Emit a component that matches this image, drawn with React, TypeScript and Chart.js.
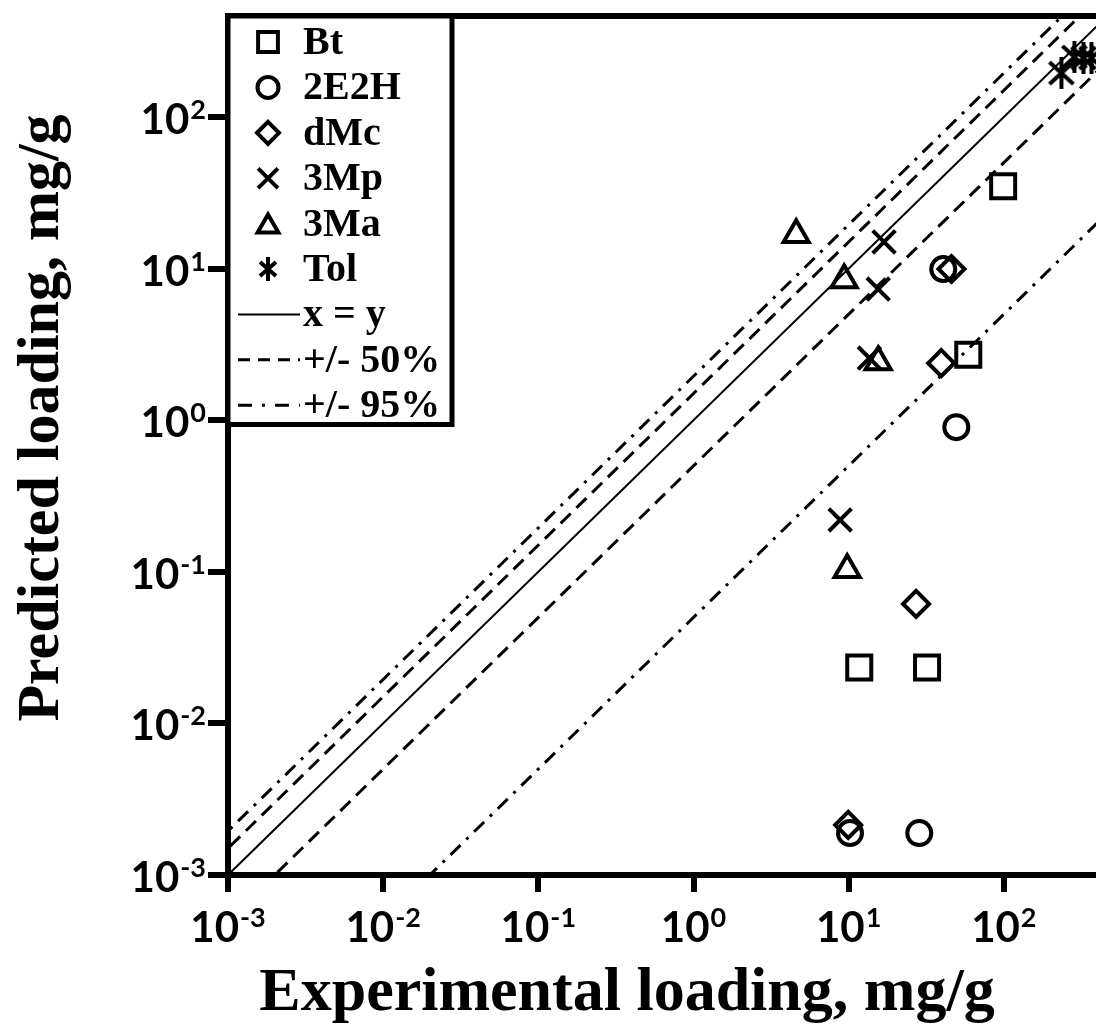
import React, { useEffect, useRef } from 'react';
import { Chart, registerables } from 'chart.js';

Chart.register(...registerables);

// ---------- data ----------
const SERIES = ['Bt', '2E2H', 'dMc', '3Mp', '3Ma', 'Tol'];
const BT_X = [99, 59, 11.7, 32];
const BT_Y = [35, 2.7, 0.0234, 0.0234];
const E2H_X = [40.7, 49.4, 10.2, 28.5];
const E2H_Y = [9.94, 0.9, 0.00189, 0.00189];
const DMC_X = [46, 39.5, 27.2, 9.93];
const DMC_Y = [9.94, 2.38, 0.0614, 0.00214];
const MP_X = [16.9, 15.5, 13.6, 8.81];
const MP_Y = [15.0, 7.33, 2.57, 0.22];
const MA_X = [4.59, 9.35, 15.5, 9.78];
const MA_Y = [16.7, 8.41, 2.42, 0.103];
const TOL_X = [235, 285, 326, 367];
const TOL_Y = [195, 249, 245, 245];

const LINE_LABELS = ['x = y', '+/- 50%', '+/- 95%'];
const LINE_X = [0.0001, 10000];
const LINE_XY = [0.0001, 10000];
const LINE_UP50 = [0.00015, 15000];
const LINE_LO50 = [0.00005, 5000];
const LINE_UP95 = [0.000195, 19500];
const LINE_LO95 = [0.000005, 500];

const X_TICK_EXP = [-3, -2, -1, 0, 1, 2, 3];
const Y_TICK_EXP = [-3, -2, -1, 0, 1, 2];
const X_TITLE = 'Experimental loading, mg/g';
const Y_TITLE = 'Predicted loading, mg/g';

const X_MIN = 0.001;
const X_MAX = 1000;
const Y_MIN = 0.001;
const Y_MAX = 464;

// ---------- helpers ----------
const pts = (xs: number[], ys: number[]) => xs.map((x, i) => ({ x, y: ys[i] }));

const DASH = [14, 8];
const DASHDOT = [14, 8, 3, 8];

function makeAsterisk(size: number, lw: number) {
  const c = document.createElement('canvas');
  c.width = size;
  c.height = size;
  const g = c.getContext('2d')!;
  g.strokeStyle = '#000';
  g.lineWidth = lw;
  const s = size;
  const m = lw / 2;
  g.beginPath();
  g.moveTo(s / 2, 0);
  g.lineTo(s / 2, s);
  g.moveTo(m + 2, m + 3);
  g.lineTo(s - m - 2, s - m - 3);
  g.moveTo(s - m - 2, m + 3);
  g.lineTo(m + 2, s - m - 3);
  g.stroke();
  return c;
}

function drawMarker(ctx: CanvasRenderingContext2D, kind: string, x: number, y: number, r: number, img?: HTMLCanvasElement) {
  ctx.beginPath();
  if (kind === 'rect') {
    const h = r * Math.SQRT1_2;
    ctx.rect(x - h, y - h, 2 * h, 2 * h);
  } else if (kind === 'circle') {
    ctx.arc(x, y, r, 0, Math.PI * 2);
  } else if (kind === 'rectRot') {
    ctx.moveTo(x, y - r);
    ctx.lineTo(x + r, y);
    ctx.lineTo(x, y + r);
    ctx.lineTo(x - r, y);
    ctx.closePath();
  } else if (kind === 'crossRot') {
    const d = r * Math.SQRT1_2;
    ctx.moveTo(x - d, y - d);
    ctx.lineTo(x + d, y + d);
    ctx.moveTo(x + d, y - d);
    ctx.lineTo(x - d, y + d);
  } else if (kind === 'triangle') {
    const a = Math.PI * 2 / 3;
    ctx.moveTo(x, y - r);
    ctx.lineTo(x + Math.sin(a) * r, y - Math.cos(a) * r);
    ctx.lineTo(x + Math.sin(2 * a) * r, y - Math.cos(2 * a) * r);
    ctx.closePath();
  } else if (kind === 'image' && img) {
    ctx.drawImage(img, x - img.width / 2, y - img.height / 2);
    return;
  }
  ctx.stroke();
}

function drawPow(ctx: CanvasRenderingContext2D, exp: number, x: number, baseline: number, align: 'center' | 'right') {
  const base = '10';
  const sup = String(exp);
  const baseFont = '700 42px Lato';
  const supFont = '700 27px Lato';
  ctx.font = baseFont;
  const wb = ctx.measureText(base).width;
  ctx.font = supFont;
  const ws = ctx.measureText(sup).width;
  const total = wb + 1 + ws;
  const start = align === 'center' ? x - total / 2 : x - total;
  ctx.textAlign = 'left';
  ctx.textBaseline = 'alphabetic';
  ctx.font = baseFont;
  ctx.fillText(base, start, baseline);
  ctx.font = supFont;
  ctx.fillText(sup, start + wb + 1, baseline - 15);
}

export default function App() {
  const ref = useRef<HTMLCanvasElement>(null);

  useEffect(() => {
    const canvas = ref.current;
    if (!canvas) return;
    const star = makeAsterisk(32, 4);
    const starSmall = makeAsterisk(24, 4);

    const legendItems = [
      { label: SERIES[0], kind: 'rect', r: 14 },
      { label: SERIES[1], kind: 'circle', r: 10.5 },
      { label: SERIES[2], kind: 'rectRot', r: 11 },
      { label: SERIES[3], kind: 'crossRot', r: 14 },
      { label: SERIES[4], kind: 'triangle', r: 12 },
      { label: SERIES[5], kind: 'image', r: 11 },
    ];
    const legendLines = [
      { label: LINE_LABELS[0], dash: [] as number[], w: 2 },
      { label: LINE_LABELS[1], dash: [12, 8], w: 3 },
      { label: LINE_LABELS[2], dash: [14, 10, 3, 10], w: 3 },
    ];

    const overlay = {
      id: 'overlay',
      afterDraw(chart: any) {
        const { ctx, chartArea: ca, scales } = chart;
        const xs = scales.x;
        const ys = scales.y;
        ctx.save();
        // top / right frame
        ctx.strokeStyle = '#000';
        ctx.lineWidth = 6;
        ctx.setLineDash([]);
        ctx.beginPath();
        ctx.moveTo(ca.left - 3, ca.top);
        ctx.lineTo(ca.right, ca.top);
        ctx.lineTo(ca.right, ca.bottom);
        ctx.stroke();

        // tick labels
        ctx.fillStyle = '#000';
        X_TICK_EXP.forEach((e) => {
          const px = xs.getPixelForValue(Math.pow(10, e));
          drawPow(ctx, e, px, ca.bottom + 67, 'center');
        });
        Y_TICK_EXP.forEach((e) => {
          const py = ys.getPixelForValue(Math.pow(10, e));
          drawPow(ctx, e, ca.left - 22, py + 17, 'right');
        });

        // axis titles
        ctx.textAlign = 'center';
        ctx.textBaseline = 'alphabetic';
        ctx.font = 'bold 62px "Liberation Serif"';
        ctx.fillText(X_TITLE, ca.left + 399, ca.bottom + 135);
        ctx.save();
        ctx.font = 'bold 60px "Liberation Serif"';
        ctx.translate(58, ca.top + 402);
        ctx.rotate(-Math.PI / 2);
        ctx.fillText(Y_TITLE, 0, 0);
        ctx.restore();

        // legend box
        const lx0 = ca.left;
        const ly0 = ca.top;
        const lx1 = 452;
        const ly1 = 424.5;
        ctx.fillStyle = '#fff';
        ctx.fillRect(lx0, ly0, lx1 - lx0, ly1 - ly0);
        ctx.strokeStyle = '#000';
        ctx.lineWidth = 5;
        ctx.strokeRect(lx0, ly0, lx1 - lx0, ly1 - ly0);

        const rowY = (i: number) => 42 + i * 45.4;
        ctx.fillStyle = '#000';
        ctx.font = 'bold 40px "Liberation Serif"';
        ctx.textAlign = 'left';
        ctx.textBaseline = 'alphabetic';
        legendItems.forEach((it, i) => {
          const y = rowY(i);
          ctx.lineWidth = 4;
          ctx.strokeStyle = '#000';
          drawMarker(ctx, it.kind, 268, it.kind === 'triangle' ? y + 3 : y, it.r, starSmall);
          ctx.fillText(it.label, 303, y + 12);
        });
        legendLines.forEach((it, j) => {
          const y = rowY(legendItems.length + j);
          ctx.lineWidth = it.w;
          ctx.setLineDash(it.dash);
          ctx.beginPath();
          ctx.moveTo(238, y);
          ctx.lineTo(300, y);
          ctx.stroke();
          ctx.setLineDash([]);
          ctx.fillText(it.label, 303, y + 12);
        });
        ctx.restore();
      },
    };

    const markerBase = {
      borderColor: '#000',
      backgroundColor: 'rgba(0,0,0,0)',
      pointBorderColor: '#000',
      pointBackgroundColor: 'rgba(0,0,0,0)',
      pointBorderWidth: 4,
      showLine: false,
    };
    const lineBase = {
      borderColor: '#000',
      backgroundColor: 'rgba(0,0,0,0)',
      pointRadius: 0,
      showLine: true,
      fill: false,
    };

    const chart = new Chart(canvas, {
      type: 'scatter',
      data: {
        datasets: [
          { ...markerBase, label: SERIES[0], data: pts(BT_X, BT_Y), pointStyle: 'rect', pointRadius: 17 },
          { ...markerBase, label: SERIES[1], data: pts(E2H_X, E2H_Y), pointStyle: 'circle', pointRadius: 12 },
          { ...markerBase, label: SERIES[2], data: pts(DMC_X, DMC_Y), pointStyle: 'rectRot', pointRadius: 13 },
          { ...markerBase, label: SERIES[3], data: pts(MP_X, MP_Y), pointStyle: 'crossRot', pointRadius: 16 },
          { ...markerBase, label: SERIES[4], data: pts(MA_X, MA_Y), pointStyle: 'triangle', pointRadius: 14.5 },
          { ...markerBase, label: SERIES[5], data: pts(TOL_X, TOL_Y), pointStyle: star as any, pointRadius: 15 },
          { ...lineBase, label: LINE_LABELS[0], data: pts(LINE_X, LINE_XY), borderWidth: 2 },
          { ...lineBase, label: LINE_LABELS[1], data: pts(LINE_X, LINE_UP50), borderWidth: 3, borderDash: DASH },
          { ...lineBase, label: LINE_LABELS[1] + ' ', data: pts(LINE_X, LINE_LO50), borderWidth: 3, borderDash: DASH },
          { ...lineBase, label: LINE_LABELS[2], data: pts(LINE_X, LINE_UP95), borderWidth: 3, borderDash: DASHDOT },
          { ...lineBase, label: LINE_LABELS[2] + ' ', data: pts(LINE_X, LINE_LO95), borderWidth: 3, borderDash: DASHDOT },
        ],
      },
      options: {
        responsive: false,
        animation: false,
        events: [],
        devicePixelRatio: 1,
        layout: { autoPadding: false, padding: { left: 0, top: 16, right: 41, bottom: 0 } },
        plugins: { legend: { display: false }, tooltip: { enabled: false } },
        scales: {
          x: {
            type: 'logarithmic',
            min: X_MIN,
            max: X_MAX,
            afterBuildTicks: (s: any) => {
              s.ticks = X_TICK_EXP.map((e) => ({ value: Math.pow(10, e) }));
            },
            afterFit: (s: any) => {
              s.height = 154;
            },
            ticks: { display: false },
            grid: { display: true, drawOnChartArea: false, drawTicks: true, tickLength: 17, lineWidth: 6, color: '#000' },
            border: { display: true, width: 6, color: '#000' },
            title: { display: false },
          },
          y: {
            type: 'logarithmic',
            min: Y_MIN,
            max: Y_MAX,
            afterBuildTicks: (s: any) => {
              s.ticks = Y_TICK_EXP.map((e) => ({ value: Math.pow(10, e) }));
            },
            afterFit: (s: any) => {
              s.width = 228;
            },
            ticks: { display: false },
            grid: { display: true, drawOnChartArea: false, drawTicks: true, tickLength: 20, lineWidth: 6, color: '#000' },
            border: { display: true, width: 6, color: '#000' },
            title: { display: false },
          },
        },
      } as any,
      plugins: [overlay],
    });
    return () => chart.destroy();
  }, []);

  return (
    <div style={{ position: 'fixed', left: 0, top: 0, width: 1096, height: 1029, overflow: 'hidden', background: '#fff' }}>
      <canvas ref={ref} width={1200} height={1029} style={{ display: 'block' }} />
    </div>
  );
}
